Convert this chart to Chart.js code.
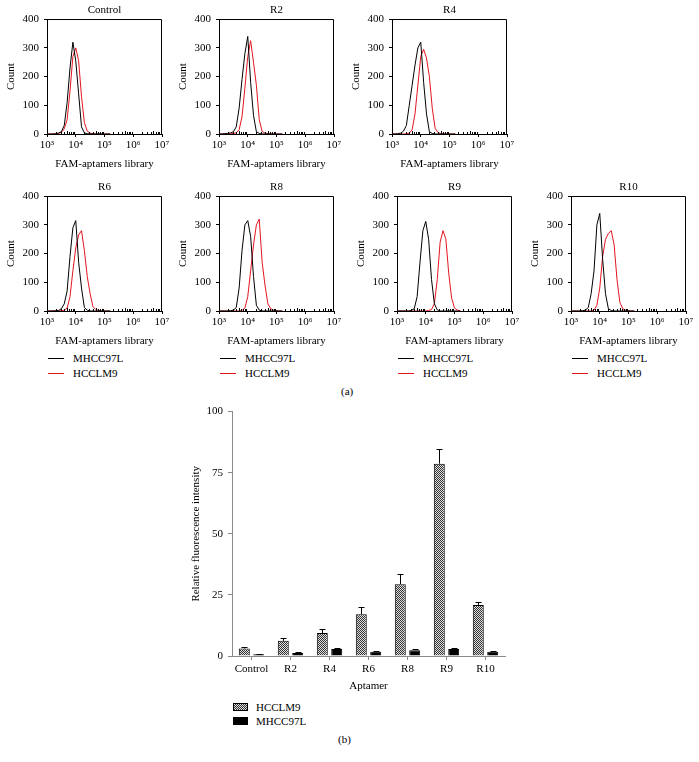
<!DOCTYPE html>
<html>
<head>
<meta charset="utf-8">
<script src="https://cdn.jsdelivr.net/npm/chart.js@4.4.1/dist/chart.umd.min.js"></script>
<style>
  body { margin: 0; background: #fff; }
  #page { position: relative; width: 699px; height: 762px; background: #fff; font-family: "Liberation Serif", "DejaVu Serif", serif; font-size: 11px; color: #000; }
  #page canvas { position: absolute; }
  .lbl { position: absolute; white-space: nowrap; line-height: 12px; }
  .line { position: absolute; height: 0; border-top: 1px solid #000; }
  .sw { position: absolute; width: 15px; height: 8px; box-sizing: border-box; border: 1px solid #000; }
</style>
</head>
<body>
<div id="page">
  <canvas id="hControl" width="172" height="174" style="left:0px;top:0px"></canvas>
  <canvas id="hR2" width="172" height="174" style="left:172px;top:0px"></canvas>
  <canvas id="hR4" width="172" height="174" style="left:345px;top:0px"></canvas>
  <canvas id="hR6" width="172" height="174" style="left:0px;top:177px"></canvas>
  <canvas id="hR8" width="172" height="174" style="left:172px;top:177px"></canvas>
  <canvas id="hR9" width="172" height="174" style="left:350px;top:177px"></canvas>
  <canvas id="hR10" width="172" height="174" style="left:524px;top:177px"></canvas>
  <div class="lbl" style="left:341px;top:385px">(a)</div>
  <canvas id="bars" width="335" height="296" style="left:180px;top:400px"></canvas>
  <div class="lbl" style="left:338px;top:733px">(b)</div>
</div>
<script>
"use strict";

// log10 of fluorescence (x grid of the histograms)
var decades = [3.0, 3.1, 3.2, 3.3, 3.4, 3.5, 3.6, 3.7, 3.8, 3.9, 4.0, 4.1, 4.2, 4.3, 4.4, 4.5, 4.6, 4.7, 4.8, 4.9, 5.0, 5.1, 5.2];
var xTicks = [3, 4, 5, 6, 7];
var yTicks = [0, 100, 200, 300, 400];

// counts, MHCC97L (black) and HCCLM9 (red)
var controlBlack = [0, 0, 0, 1, 3, 8, 30, 110, 230, 320, 255, 140, 25, 4, 1, 0, 0, 0, 0, 0, 0, 0, 0];
var controlRed   = [0, 0, 0, 1, 2, 6, 18, 50, 150, 270, 300, 255, 130, 40, 10, 3, 1, 0, 0, 0, 0, 0, 0];
var r2Black  = [0, 0, 1, 2, 4, 8, 25, 90, 190, 280, 340, 180, 65, 8, 2, 0, 0, 0, 0, 0, 0, 0, 0];
var r2Red    = [0, 0, 0, 0, 1, 2, 4, 15, 60, 160, 270, 325, 250, 170, 50, 9, 3, 1, 0, 0, 0, 0, 0];
var r4Black  = [0, 0, 1, 3, 10, 30, 100, 170, 240, 300, 320, 180, 70, 8, 2, 0, 0, 0, 0, 0, 0, 0, 0];
var r4Red    = [0, 0, 0, 0, 0, 1, 3, 15, 70, 170, 270, 295, 265, 200, 90, 20, 5, 1, 0, 0, 0, 0, 0];
var r6Black  = [0, 0, 0, 1, 2, 8, 25, 70, 190, 290, 315, 170, 80, 12, 3, 0, 0, 0, 0, 0, 0, 0, 0];
var r6Red    = [0, 0, 0, 0, 0, 1, 3, 10, 50, 140, 220, 265, 280, 210, 120, 60, 15, 5, 2, 0, 0, 0, 0];
var r8Black  = [0, 0, 0, 0, 1, 3, 12, 80, 210, 300, 315, 260, 120, 20, 3, 0, 0, 0, 0, 0, 0, 0, 0];
var r8Red    = [0, 0, 0, 0, 0, 0, 0, 0, 2, 10, 50, 140, 230, 300, 320, 170, 90, 25, 8, 3, 1, 0, 0];
var r9Black  = [0, 0, 0, 0, 0, 2, 8, 50, 170, 280, 312, 250, 110, 25, 4, 0, 0, 0, 0, 0, 0, 0, 0];
var r9Red    = [0, 0, 0, 0, 0, 0, 0, 0, 0, 0, 0, 2, 5, 25, 110, 240, 280, 250, 130, 45, 10, 3, 1];
var r10Black = [0, 0, 0, 0, 1, 3, 12, 60, 140, 300, 340, 180, 60, 8, 2, 0, 0, 0, 0, 0, 0, 0, 0];
var r10Red   = [0, 0, 0, 0, 0, 0, 0, 0, 3, 20, 80, 190, 250, 270, 280, 230, 110, 30, 8, 3, 1, 0, 0];

// panel (b)
var aptamers = ["Control", "R2", "R4", "R6", "R8", "R9", "R10"];
var hcclm9   = [3.1, 6.2, 9.4, 17.1, 29.4, 78.7, 20.9];
var hcclm9Err = [0.4, 1.1, 1.6, 3.0, 4.0, 6.0, 1.3];
var mhcc97l  = [0.7, 1.2, 2.9, 1.7, 2.4, 2.9, 1.7];
var mhcc97lErr = [0.2, 0.3, 0.3, 0.3, 0.4, 0.4, 0.3];
var barTicks = [0, 25, 50, 75, 100];

var SERIF = '"Liberation Serif", "DejaVu Serif", serif';
var FONT = { family: SERIF, size: 11 };
var SUP = { 3: "\u00b3", 4: "\u2074", 5: "\u2075", 6: "\u2076", 7: "\u2077" };
var RED = "#e3151f";

function points(counts) {
    return decades.map(function (d, i) { return { x: d, y: counts[i] }; });
}

// closes the box and draws minor log ticks
var framePlugin = {
    id: "frame",
    afterDraw: function (chart) {
        var a = chart.chartArea, ctx = chart.ctx, xs = chart.scales.x;
        ctx.save();
        ctx.strokeStyle = "#000";
        ctx.lineWidth = 1;
        ctx.beginPath();
        ctx.moveTo(Math.round(a.left) + 0.5, Math.round(a.top) + 0.5);
        ctx.lineTo(Math.round(a.right) - 0.5, Math.round(a.top) + 0.5);
        ctx.lineTo(Math.round(a.right) - 0.5, Math.round(a.bottom));
        for (var d = 3; d < 7; d++) {
            for (var m = 2; m < 10; m++) {
                var px = Math.round(xs.getPixelForValue(d + Math.log10(m))) + 0.5;
                ctx.moveTo(px, a.bottom);
                ctx.lineTo(px, a.bottom - (m === 5 ? 3 : 2));
            }
        }
        ctx.stroke();
        ctx.restore();
    }
};

function makeHistogram(id, title, black, red) {
    new Chart(document.getElementById(id), {
        type: "line",
        data: {
            datasets: [
                { label: "MHCC97L", data: points(black), borderColor: "#000", borderWidth: 1, pointRadius: 0, tension: 0, fill: false },
                { label: "HCCLM9", data: points(red), borderColor: RED, borderWidth: 1, pointRadius: 0, tension: 0, fill: false }
            ]
        },
        options: {
            responsive: false,
            animation: false,
            layout: { padding: { left: 0, right: 10, top: 0, bottom: 0 } },
            plugins: {
                legend: { display: false },
                tooltip: { enabled: false },
                title: { display: true, fullSize: false, text: title, color: "#000", font: { family: SERIF, size: 11, weight: "normal" }, padding: { top: 4, bottom: 2 } }
            },
            scales: {
                x: {
                    type: "linear", min: 3, max: 7,
                    afterBuildTicks: function (s) { s.ticks = xTicks.map(function (v) { return { value: v }; }); },
                    ticks: { font: FONT, color: "#000", padding: 2, maxRotation: 0, autoSkip: false,
                        callback: function (v) { return "10" + SUP[v]; } },
                    grid: { drawOnChartArea: false, tickLength: 3, color: "#000" },
                    border: { color: "#000" },
                    title: { display: true, text: "FAM-aptamers library", color: "#000", font: FONT, padding: { top: 0, bottom: 3 } },
                    afterFit: function (s) { s.height = 40; }
                },
                y: {
                    min: 0, max: 400,
                    afterBuildTicks: function (s) { s.ticks = yTicks.map(function (v) { return { value: v }; }); },
                    ticks: { font: FONT, color: "#000", padding: 5 },
                    grid: { drawOnChartArea: false, tickLength: 3, color: "#000" },
                    border: { color: "#000" },
                    title: { display: true, text: "Count", color: "#000", font: FONT, padding: { top: 5, bottom: 0 } },
                    afterFit: function (s) { s.width = 47; }
                }
            }
        },
        plugins: [framePlugin]
    });
}

makeHistogram("hControl", "Control", controlBlack, controlRed);
makeHistogram("hR2", "R2", r2Black, r2Red);
makeHistogram("hR4", "R4", r4Black, r4Red);
makeHistogram("hR6", "R6", r6Black, r6Red);
makeHistogram("hR8", "R8", r8Black, r8Red);
makeHistogram("hR9", "R9", r9Black, r9Red);
makeHistogram("hR10", "R10", r10Black, r10Red);

// line legends under the second row
var page = document.getElementById("page");
function addLegend(plotLeft) {
    [["MHCC97L", "#000", 358], ["HCCLM9", RED, 373]].forEach(function (it) {
        var ln = document.createElement("div");
        ln.className = "line";
        ln.style.cssText = "left:" + (plotLeft + 1) + "px;top:" + it[2] + "px;width:16px;border-top-color:" + it[1];
        page.appendChild(ln);
        var t = document.createElement("div");
        t.className = "lbl";
        t.style.cssText = "left:" + (plotLeft + 26) + "px;top:" + (it[2] - 6) + "px";
        t.textContent = it[0];
        page.appendChild(t);
    });
}
[47, 219, 397, 571].forEach(addLegend);

// checker fill for HCCLM9
function checker() {
    var c = document.createElement("canvas");
    c.width = 2; c.height = 2;
    var g = c.getContext("2d");
    g.fillStyle = "#e0e0e0"; g.fillRect(0, 0, 2, 2);
    g.fillStyle = "#333"; g.fillRect(0, 0, 1, 1); g.fillRect(1, 1, 1, 1);
    return g.createPattern(c, "repeat");
}

var errorBars = {
    id: "errorBars",
    afterDatasetsDraw: function (chart) {
        var ctx = chart.ctx, ys = chart.scales.y;
        var errs = [hcclm9Err, mhcc97lErr];
        ctx.save();
        ctx.strokeStyle = "#000";
        ctx.lineWidth = 1;
        chart.data.datasets.forEach(function (ds, i) {
            chart.getDatasetMeta(i).data.forEach(function (bar, j) {
                var x = Math.round(bar.x) + 0.5;
                var yTop = Math.round(ys.getPixelForValue(ds.data[j] + errs[i][j])) + 0.5;
                ctx.beginPath();
                ctx.moveTo(x, bar.y);
                ctx.lineTo(x, yTop);
                ctx.moveTo(x - 3, yTop);
                ctx.lineTo(x + 3, yTop);
                ctx.stroke();
            });
        });
        ctx.restore();
    }
};

new Chart(document.getElementById("bars"), {
    type: "bar",
    data: {
        labels: aptamers,
        datasets: [
            { label: "HCCLM9", data: hcclm9, backgroundColor: checker(), borderColor: "#000", borderWidth: 1 },
            { label: "MHCC97L", data: mhcc97l, backgroundColor: "#000", borderColor: "#000", borderWidth: 1 }
        ]
    },
    options: {
        responsive: false,
        animation: false,
        categoryPercentage: 0.74,
        barPercentage: 0.76,
        layout: { padding: { left: 0, right: 10, top: 11, bottom: 0 } },
        plugins: { legend: { display: false }, tooltip: { enabled: false } },
        scales: {
            x: {
                grid: { drawOnChartArea: false, offset: false, tickLength: 4, color: "#8a8a8a" },
                border: { color: "#8a8a8a" },
                ticks: { font: FONT, color: "#000", padding: 3, maxRotation: 0 },
                title: { display: true, text: "Aptamer", color: "#000", font: FONT, padding: { top: 0, bottom: 3 } },
                afterFit: function (s) { s.height = 40; }
            },
            y: {
                min: 0, max: 100,
                afterBuildTicks: function (s) { s.ticks = barTicks.map(function (v) { return { value: v }; }); },
                ticks: { font: FONT, color: "#000", padding: 5 },
                grid: { drawOnChartArea: false, tickLength: 4, color: "#8a8a8a" },
                border: { color: "#8a8a8a" },
                title: { display: true, text: "Relative fluorescence intensity", color: "#000", font: FONT, padding: { top: 10, bottom: 0 } },
                afterFit: function (s) { s.width = 52; }
            }
        }
    },
    plugins: [errorBars]
});

// bar legend
[["HCCLM9", 707, "repeating-conic-gradient(#333 0 25%, #e0e0e0 0 50%) 0 0/2px 2px"], ["MHCC97L", 721, "#000"]].forEach(function (it) {
    var sw = document.createElement("div");
    sw.className = "sw";
    sw.style.cssText = "left:233px;top:" + (it[1] - 4) + "px;background:" + it[2];
    page.appendChild(sw);
    var t = document.createElement("div");
    t.className = "lbl";
    t.style.cssText = "left:256px;top:" + (it[1] - 6) + "px";
    t.textContent = it[0];
    page.appendChild(t);
});
</script>
</body>
</html>
